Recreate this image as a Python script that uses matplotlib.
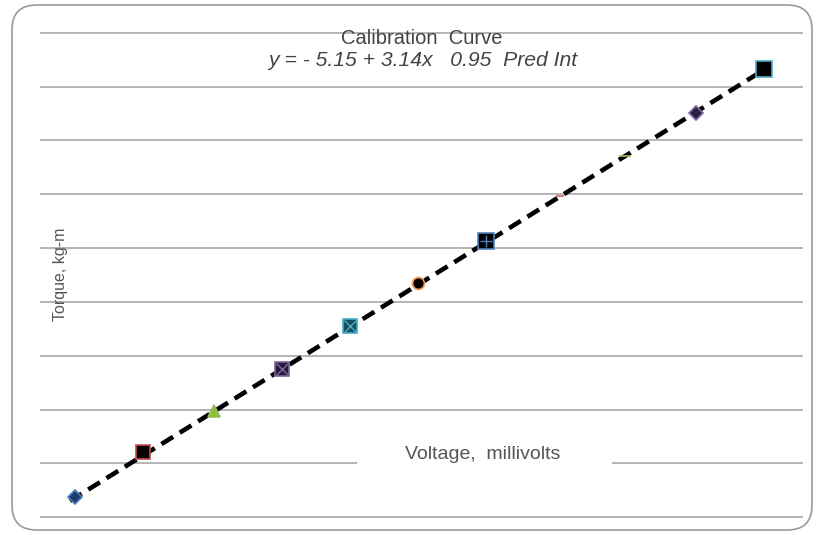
import matplotlib
matplotlib.use("Agg")
import matplotlib.pyplot as plt
import numpy as np
from matplotlib.patches import FancyBboxPatch, Rectangle

# Data
voltage = [2.8, 5.3, 7.9, 10.4, 12.9, 15.4, 17.9, 20.6, 23.0, 25.6, 28.1]
torque = [3.7, 12.1, 19.7, 27.5, 35.5, 43.5, 51.3, 59.6, 67.2, 75.1, 83.3]
intercept = -5.15
slope = 3.14
title = "Calibration  Curve"
subtitle = "y = - 5.15 + 3.14x   0.95  Pred Int"
xlabel = "Voltage,  millivolts"
ylabel = "Torque, kg-m"
grid_vals = [0, 10, 20, 30, 40, 50, 60, 70, 80, 90]

markers = ['D', 's', '^', 's', 's', 'o', 's', '_', '_', 'D', 's']
faces = ['#1f3a6e', 'black', '#8cbf3f', '#2a1a3a', '#14505e', 'black', 'black', '#d9534f', '#8cbf3f', '#2a1f40', 'black']
edges = ['#4a7ebb', '#c0504d', '#9bbb59', '#8064a2', '#4bacc6', '#f79646', '#4f81bd', '#e06060', '#9bbb59', '#8064a2', '#4bacc6']
sizes = [7, 10, 9, 10, 10, 8.5, 11, 6, 9, 7.5, 11]
overlays = [None, None, None, 'x', 'x', None, '+', None, None, None, None]

plt.rcParams['font.family'] = ['Liberation Sans', 'DejaVu Sans']

fig = plt.figure(figsize=(8.19, 5.35), dpi=100)
fig.patch.set_facecolor('white')

# rounded outer border
border = FancyBboxPatch((12 / 819, 5 / 535), 800 / 819, 525 / 535,
                        boxstyle="round,pad=0,rounding_size=0.03",
                        transform=fig.transFigure, facecolor='none',
                        edgecolor='#9a9a9a', linewidth=1.2, mutation_aspect=819 / 535)
fig.patches.append(border)

ax = fig.add_axes([40 / 819, 16 / 535, 763 / 819, 488 / 535])
ax.set_xlim(1.5, 29.55)
ax.set_ylim(-0.35, 90.35)
for s in ax.spines.values():
    s.set_visible(False)
ax.set_xticks([])
ax.set_yticks([])

for g in grid_vals:
    ax.axhline(g, color='#a8a8a8', linewidth=1.2, zorder=1)

# white patch behind x label (interrupts gridline)
ax.add_patch(Rectangle((0.4155, 0.095), 0.334, 0.07, transform=ax.transAxes,
                       facecolor='white', edgecolor='none', zorder=2))

# fit line
xx = np.array([min(voltage) - 0.2, max(voltage) + 0.1])
ax.plot(xx, intercept + slope * xx, linestyle=(0, (3.0, 1.7)), color='black',
        linewidth=3.3, zorder=3)

# markers
for x, y, m, fc, ec, s, ov in zip(voltage, torque, markers, faces, edges, sizes, overlays):
    ax.plot([x], [y], marker=m, markersize=s, markerfacecolor=fc,
            markeredgecolor=ec, markeredgewidth=1.2, linestyle='none', zorder=4)
    if ov:
        ax.plot([x], [y], marker=ov, markersize=s * 0.85, markeredgecolor=ec,
                markeredgewidth=1.0, linestyle='none', zorder=4.5)

fig.text(422 / 819, 1 - 39 / 535, title, ha='center', va='center',
         fontsize=14.5, color='#444444', zorder=5)
fig.text(423 / 819, 1 - 60 / 535, subtitle, ha='center', va='center',
         fontsize=15.2, color='#444444', style='italic', zorder=5)
ax.text((483 - 40) / 763, 0.132, xlabel, transform=ax.transAxes, ha='center', va='center',
        fontsize=14, color='#555555', zorder=5)
fig.text(60 / 819, 1 - 274 / 535, ylabel, rotation=90, ha='center', va='center',
         fontsize=11.5, color='#555555', zorder=5)

fig.savefig('out.png', dpi=100, facecolor='white')
